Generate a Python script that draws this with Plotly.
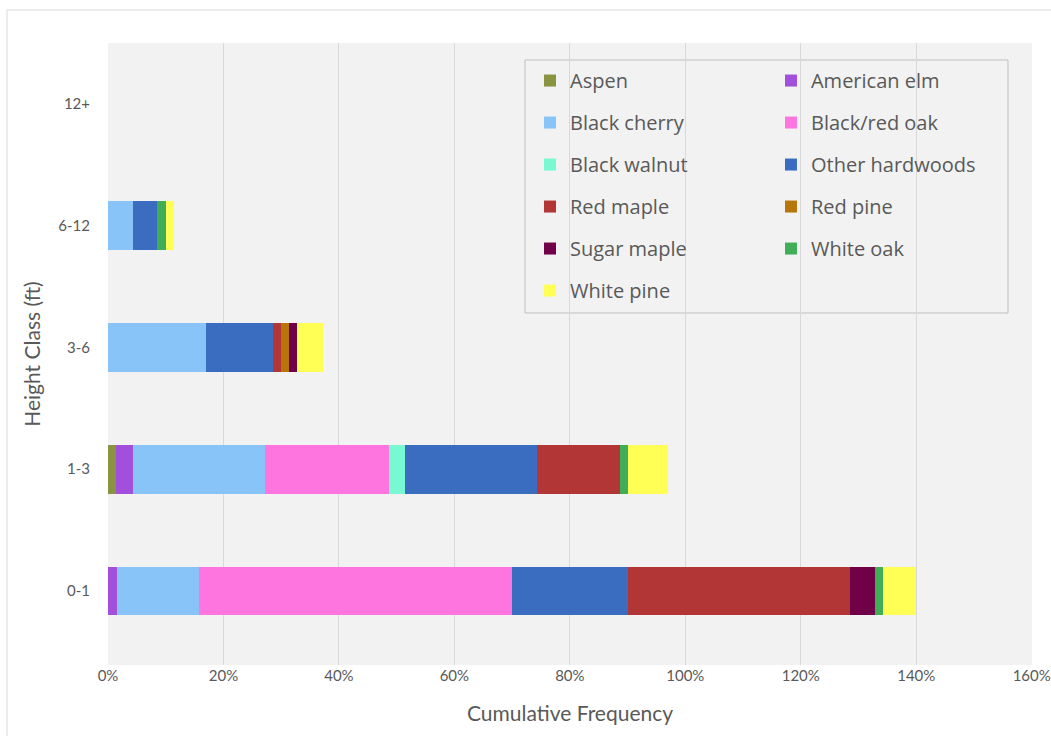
import plotly.graph_objects as go

# Height classes (bottom to top) and stacked cumulative frequency (%) per species
height_classes = ["0-1", "1-3", "3-6", "6-12", "12+"]

species = [
    "Aspen", "American elm", "Black cherry", "Black/red oak", "Black walnut",
    "Other hardwoods", "Red maple", "Red pine", "Sugar maple", "White oak", "White pine",
]

aspen = [0, 1.4, 0, 0, 0]
american_elm = [1.5, 2.9, 0, 0, 0]
black_cherry = [14.2, 22.9, 17.0, 4.25, 0]
black_red_oak = [54.3, 21.4, 0, 0, 0]
black_walnut = [0, 2.8, 0, 0, 0]
other_hardwoods = [20.1, 22.9, 11.6, 4.25, 0]
red_maple = [38.5, 14.3, 1.4, 0, 0]
red_pine = [0, 0, 1.4, 0, 0]
sugar_maple = [4.2, 0, 1.4, 0, 0]
white_oak = [1.4, 1.4, 0, 1.5, 0]
white_pine = [5.8, 7.0, 4.4, 1.5, 0]

x_ticks = [0, 20, 40, 60, 80, 100, 120, 140, 160]
x_tick_labels = [f"{t}%" for t in x_ticks]

values = [
    aspen, american_elm, black_cherry, black_red_oak, black_walnut,
    other_hardwoods, red_maple, red_pine, sugar_maple, white_oak, white_pine,
]

colors = [
    "#8a9340", "#a24fdc", "#88c4f8", "#ff75e0", "#78f9d2",
    "#3a6cbf", "#b33637", "#b8750a", "#700047", "#3fae57", "#ffff55",
]

TEXT = "#595959"

fig = go.Figure()
for i, (name, vals, col) in enumerate(zip(species, values, colors)):
    fig.add_trace(go.Bar(
        y=height_classes, x=vals, name=name, orientation="h",
        marker=dict(color=col, line=dict(width=0)),
        legendgroup=name,
        legend="legend" if i % 2 == 0 else "legend2",
    ))

legend_common = dict(
    font=dict(family="Open Sans", size=20, color=TEXT),
    bgcolor="rgba(0,0,0,0)", borderwidth=0,
    xanchor="left", yanchor="top", tracegroupgap=13,
    traceorder="grouped",
)

fig.update_layout(
    width=1051, height=736,
    margin=dict(l=108, r=19, t=43, b=71),
    paper_bgcolor="white", plot_bgcolor="#f2f2f2",
    barmode="stack", bargap=0.6,
    legend=dict(x=0.4567, y=0.971, **legend_common),
    legend2=dict(x=0.7175, y=0.971, **legend_common),
    xaxis=dict(
        range=[0, 160.05], tickvals=x_ticks, ticktext=x_tick_labels,
        automargin=False,
        showgrid=True, gridcolor="#d9d9d9", gridwidth=1,
        zeroline=False, showline=False,
        tickfont=dict(family="Lato", size=15, color=TEXT),
        title=dict(text="Cumulative Frequency", standoff=23,
                   font=dict(family="Lato", size=21, color=TEXT)),
    ),
    yaxis=dict(
        type="category", categoryorder="array", categoryarray=height_classes,
        range=[-0.608, 4.501], automargin=False,
        showgrid=False, zeroline=False, showline=False,
        ticklabelstandoff=17,
        tickfont=dict(family="Lato", size=15, color=TEXT),
        title=dict(text="Height Class (ft)", standoff=11,
                   font=dict(family="Lato", size=21, color=TEXT)),
    ),
    shapes=[
        # legend frame
        dict(type="rect", xref="paper", yref="paper",
             x0=(525 - 108) / 924, x1=(1008 - 108) / 924,
             y0=(665 - 313) / 622, y1=(665 - 60) / 622,
             line=dict(color="#bfbfbf", width=1), fillcolor="#f2f2f2", layer="below"),
        # chart outer frame
        dict(type="rect", xref="paper", yref="paper",
             x0=(7 - 108) / 924, x1=(1060 - 108) / 924,
             y0=(665 - 745) / 622, y1=(665 - 10) / 622,
             line=dict(color="#d9d9d9", width=1), fillcolor="rgba(0,0,0,0)", layer="below"),
    ],
)

fig.write_html("out.html")
